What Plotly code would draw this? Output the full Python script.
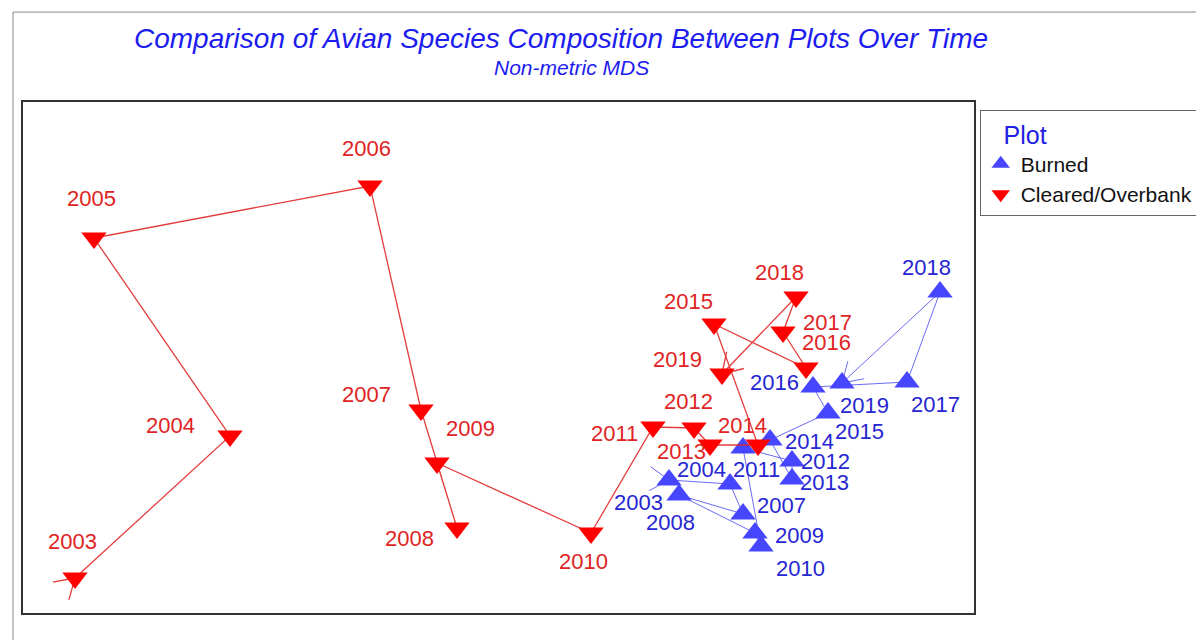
import math
import plotly.graph_objects as go

# NMDS scores
years_cleared = [2003, 2004, 2005, 2006, 2007, 2008, 2009, 2010, 2011,
                 2012, 2013, 2014, 2015, 2016, 2017, 2018, 2019]
nmds1_cleared = [-1.052, -0.742, -1.014, -0.462, -0.360, -0.288, -0.328, -0.020, 0.104,
                 0.186, 0.218, 0.314, 0.226, 0.410, 0.364, 0.390, 0.242]
nmds2_cleared = [-0.356, -0.072, 0.324, 0.428, -0.020, -0.256, -0.126, -0.266, -0.054,
                 -0.056, -0.090, -0.090, 0.152, 0.064, 0.136, 0.206, 0.052]

years_burned = [2003, 2004, 2007, 2008, 2009, 2010, 2011, 2012, 2013,
                2014, 2015, 2016, 2017, 2018, 2019]
nmds1_burned = [0.136, 0.258, 0.284, 0.156, 0.308, 0.320, 0.284, 0.382, 0.382,
                0.338, 0.454, 0.424, 0.612, 0.678, 0.482]
nmds2_burned = [-0.160, -0.168, -0.228, -0.190, -0.266, -0.292, -0.096, -0.122, -0.158,
                -0.080, -0.026, 0.026, 0.036, 0.216, 0.034]

# label nudges in pixels (dx right, dy down)
shift_cleared = [(-3, -37), (-60, -11), (-3, -40), (-4, -38), (-55, -16), (-48, 10),
                 (33, -35), (-8, 28), (-39, 6), (-6, -27), (-29, 6), (-16, -20),
                 (-26, -23), (20, -26), (44, -10), (-17, -25), (-45, -15)]
shift_burned = [(-31, 22), (-29, -15), (38, -9), (-9, 27), (44, 2), (39, 22), (13, 21),
                (33, 0), (32, 3), (39, 1), (31, 18), (-39, -5), (28, 22), (-14, -25),
                (22, 22)]

RED = "#ff0000"
RED_LINE = "rgba(225,40,40,0.9)"
RED_TEXT = "#e02424"
BLUE = "#4646ff"
BLUE_LINE = "rgba(80,80,240,0.85)"
BLUE_TEXT = "#2626d2"
FONT = "Liberation Sans, Arial, sans-serif"


def barbs(tip, toward, length=0.045, angle=32):
    # two short strokes of an open arrow head with its tip at `tip`,
    # pointing in the direction of `toward`
    vx, vy = toward
    n = math.hypot(vx, vy)
    bx, by = -vx / n, -vy / n
    xs, ys = [], []
    for a in (angle, -angle):
        r = math.radians(a)
        rx = bx * math.cos(r) - by * math.sin(r)
        ry = bx * math.sin(r) + by * math.cos(r)
        xs += [tip[0] + length * rx, tip[0], None]
        ys += [tip[1] + length * ry, tip[1], None]
    return xs, ys


fig = go.Figure()

series = [
    ("Burned", nmds1_burned, nmds2_burned, years_burned, shift_burned,
     "triangle-up", BLUE, BLUE_LINE, BLUE_TEXT, 1.0),
    ("Cleared/Overbank", nmds1_cleared, nmds2_cleared, years_cleared, shift_cleared,
     "triangle-down", RED, RED_LINE, RED_TEXT, 1.3),
]

annotations = []
for name, xs, ys, yrs, shifts, sym, col, lcol, tcol, lw in series:
    fig.add_trace(go.Scatter(
        x=xs, y=ys, mode="lines", line=dict(color=lcol, width=lw),
        showlegend=False, hoverinfo="skip",
    ))
    # arrow heads at both ends of the path, pointing along the direction of travel
    hx1, hy1 = barbs((xs[0], ys[0]), (xs[1] - xs[0], ys[1] - ys[0]))
    hx2, hy2 = barbs((xs[-1], ys[-1]), (xs[-1] - xs[-2], ys[-1] - ys[-2]))
    fig.add_trace(go.Scatter(
        x=hx1 + hx2, y=hy1 + hy2, mode="lines", line=dict(color=lcol, width=lw),
        showlegend=False, hoverinfo="skip",
    ))
    fig.add_trace(go.Scatter(
        x=xs, y=ys, mode="markers", name=name,
        marker=dict(symbol=sym, size=22, color=col, line=dict(width=0)),
        hoverinfo="skip",
    ))
    for x, y, yr, (dx, dy) in zip(xs, ys, yrs, shifts):
        annotations.append(dict(
            x=x, y=y, text=str(yr), showarrow=False, xshift=dx, yshift=-dy,
            font=dict(family=FONT, size=22, color=tcol),
        ))

annotations += [
    dict(text="<i>Comparison of Avian Species Composition Between Plots Over Time</i>",
         xref="paper", yref="paper", x=0.566, y=1.159, showarrow=False,
         font=dict(family=FONT, size=28, color="#1c1cf0")),
    dict(text="<i>Non-metric MDS</i>", xref="paper", yref="paper", x=0.577, y=1.094,
         showarrow=False, font=dict(family=FONT, size=21, color="#1c1cf0")),
]

fig.update_layout(
    width=1204, height=640,
    margin=dict(l=15, r=238, t=94, b=35, autoexpand=False),
    paper_bgcolor="white", plot_bgcolor="white",
    font=dict(family=FONT),
    annotations=annotations,
    showlegend=True,
    legend=dict(
        title=dict(text="\u00a0\u00a0\u00a0Plot", font=dict(size=25, color="#2020e0")),
        x=1.006, y=0.984, xanchor="left", yanchor="top",
        bordercolor="#666666", borderwidth=1, bgcolor="white",
        font=dict(size=21, color="#111111"), itemsizing="trace",
        tracegroupgap=0,
    ),
    shapes=[dict(type="path", xref="paper", yref="paper",
                 path="M -0.0105,-0.06 L -0.0105,1.176 L 1.3,1.176",
                 line=dict(color="#888888", width=1))],
    hovermode=False,
)
fig.update_xaxes(range=[-1.156, 0.746], showgrid=False, zeroline=False, showticklabels=False,
                 ticks="", showline=True, mirror=True, linecolor="#333333", linewidth=1.5)
fig.update_yaxes(range=[-0.426, 0.596], showgrid=False, zeroline=False, showticklabels=False,
                 ticks="", showline=True, mirror=True, linecolor="#333333", linewidth=1.5)

fig.write_html("out.html")
